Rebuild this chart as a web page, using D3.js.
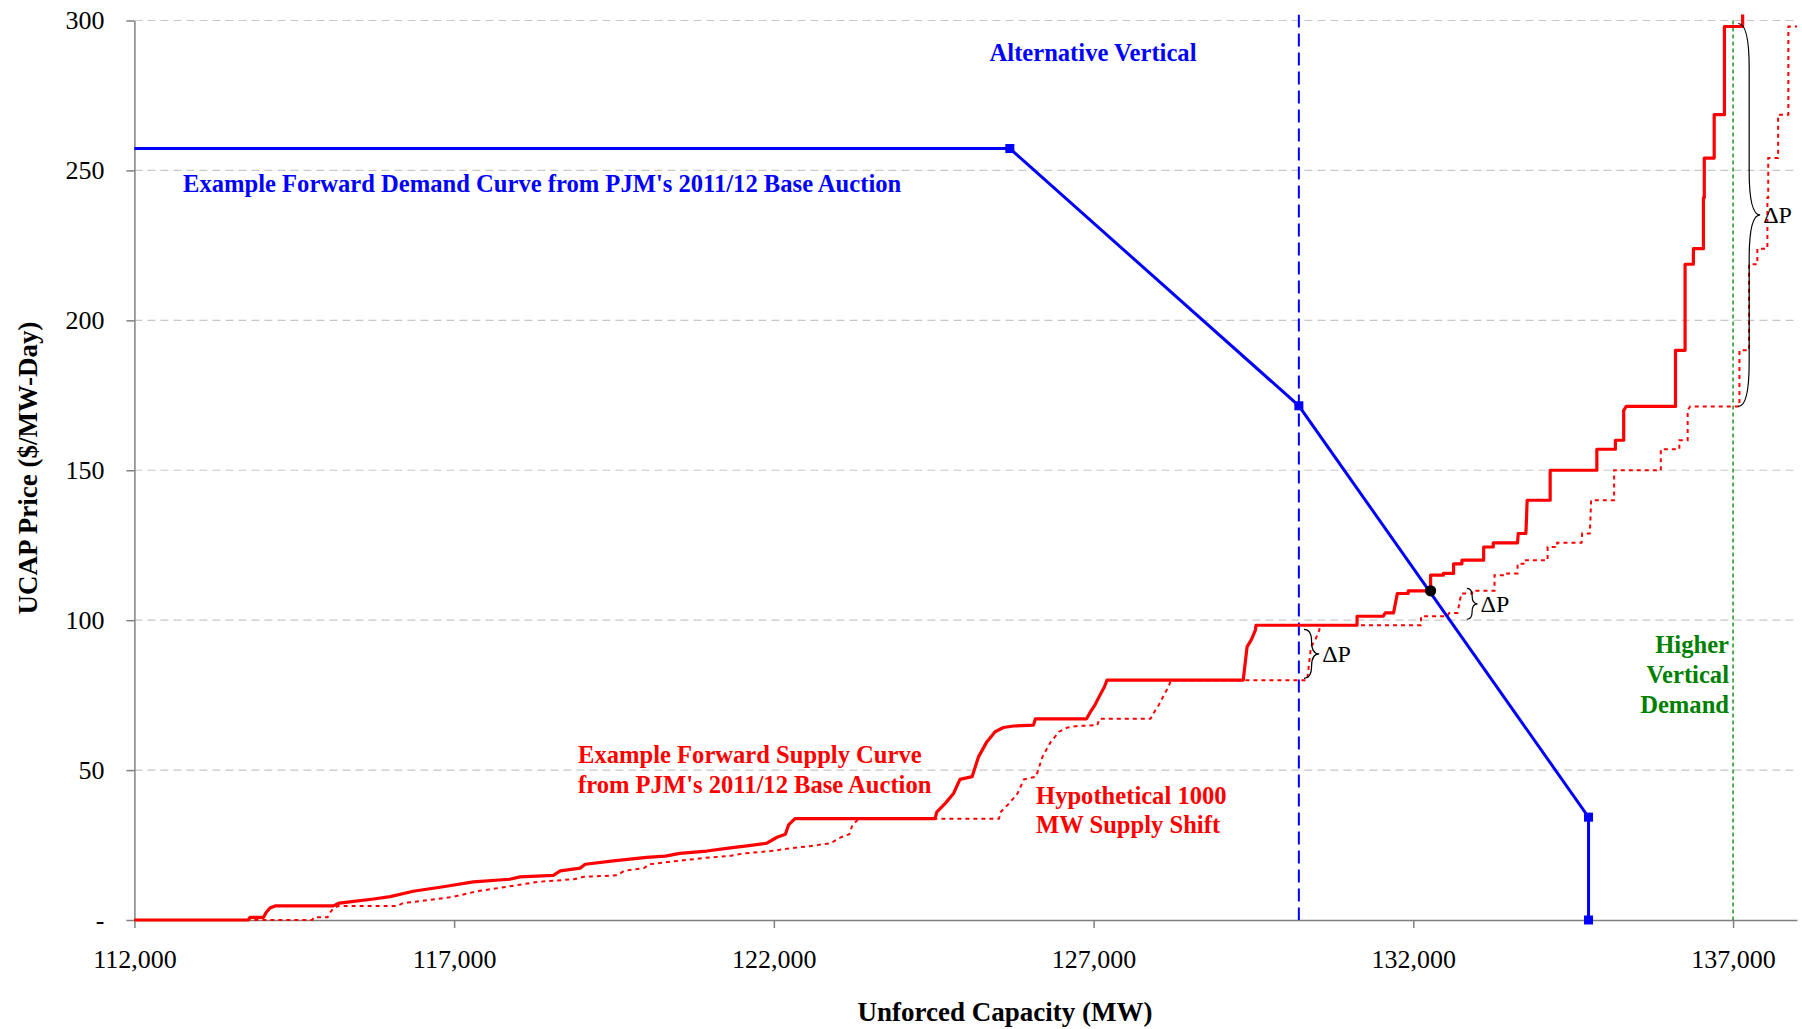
<!DOCTYPE html>
<html>
  <head>
    <meta charset="utf-8">
    <title>Forward capacity supply and demand</title>
    <script src="https://cdn.jsdelivr.net/npm/d3@7"></script>
    <style>
      body { margin: 0; background: #fff; }
      svg { display: block; font-family: "Liberation Serif", "Times New Roman", serif; }
      .axis path, .axis line { stroke: #808080; stroke-width: 1.5; }
      .axis text { font-family: "Liberation Serif", "Times New Roman", serif; font-size: 26px; fill: #000; }
      .grid line { stroke: #c8c8c8; stroke-width: 1.2; stroke-dasharray: 8, 5; }
      .title { font-size: 27px; font-weight: bold; fill: #000; }
      .label { font-size: 24.6px; font-weight: bold; }
      .delta { font-size: 24px; fill: #000; }
    </style>
  </head>
  <body>
    <svg id="chart" width="1802" height="1029"></svg>

    <script>
      // data (MW, $/MW-day)
      const xTicks = [112000, 117000, 122000, 127000, 132000, 137000];
      const yTicks = [0, 50, 100, 150, 200, 250, 300];

      const demandMW = [112000, 125690, 130210, 134740, 134740];
      const demandPrice = [257.3, 257.3, 171.5, 34.3, 0];

      const supplyCurve = [
        [112000, 0], [113780, 0], [113810, 0.9], [114020, 0.9], [114060, 2.5], [114120, 4.0], [114200, 4.7],
        [115110, 4.7], [115200, 5.6], [115270, 5.8], [115740, 7.0], [116000, 7.8], [116360, 9.6],
        [116830, 11.1], [117300, 12.7], [117870, 13.6], [118030, 14.4], [118550, 14.9], [118660, 16.4],
        [118970, 17.3], [119050, 18.6], [119490, 19.7], [120010, 20.9], [120300, 21.3], [120530, 22.2],
        [120950, 23.0], [121260, 23.9], [121580, 24.7], [121890, 25.6], [122050, 27.6], [122180, 28.6],
        [122230, 31.7], [122330, 33.8], [124520, 33.8], [124550, 36.1], [124680, 38.9], [124810, 42.2],
        [124910, 46.9], [125100, 47.8], [125200, 54.4], [125330, 59.4], [125460, 62.8], [125590, 64.2],
        [125750, 64.7], [126060, 65.0], [126090, 67.1], [126890, 67.1], [126950, 69.4], [127020, 71.7],
        [127100, 75.0], [127170, 77.8], [127210, 80.0], [129340, 80.0], [129370, 85.6], [129400, 91.1],
        [129470, 93.6], [129530, 96.7], [129540, 98.3], [131120, 98.3], [131120, 101.3], [131530, 101.3],
        [131560, 102.4], [131690, 102.4], [131720, 105.6], [131750, 108.9], [131920, 108.9], [131920, 109.8],
        [132270, 109.8], [132270, 115.0], [132470, 115.0], [132470, 115.6], [132630, 115.6], [132630, 118.8],
        [132760, 118.8], [132760, 120.0], [133100, 120.0], [133100, 124.4], [133250, 124.4], [133250, 125.8],
        [133630, 125.8], [133640, 128.9], [133760, 128.9], [133770, 133.9], [133780, 140.0], [134140, 140.0],
        [134140, 150.0], [134870, 150.0], [134870, 157.0], [135160, 157.0], [135160, 160.0], [135290, 160.0],
        [135290, 170.0], [135330, 171.3], [136100, 171.3], [136100, 190.0], [136250, 190.0], [136250, 218.7],
        [136380, 218.7], [136380, 223.9], [136537, 223.9], [136537, 240.9], [136550, 240.9], [136550, 254.1],
        [136705, 254.1], [136705, 268.6], [136865, 268.6], [136865, 298.0], [137150, 298.0], [137150, 310.0]
      ];
      const supplyShiftMW = 1000;

      const alternativeVerticalMW = 130210;
      const higherVerticalMW = 137000;
      const clearingPoint = [132270, 109.8];

      // delta P braces: left edge MW, top price, bottom price
      const braceMW = [130290, 132836, 137080];
      const braceTop = [96.9, 110.6, 299];
      const braceBottom = [80.6, 100.3, 171.3];

      // elements
      chart = d3.select("#chart");

      x = d3.scaleLinear()
        .domain([112000, 138000])
        .range([134.4, 1797]);
      y = d3.scaleLinear()
        .domain([0, 300])
        .range([920, 20.5]);

      plotTop = y(302);

      chart.append("defs").append("clipPath")
          .attr("id", "plotClip")
        .append("rect")
          .attr("x", x(112000) - 6)
          .attr("y", plotTop)
          .attr("width", x(138000) - x(112000) + 6)
          .attr("height", y(0) - plotTop + 6);

      // gridlines
      chart.append("g")
          .attr("class", "grid")
        .selectAll("line")
          .data(yTicks.filter(function(d) { return d > 0; }))
        .enter().append("line")
          .attr("x1", x(112000))
          .attr("x2", x(138000))
          .attr("y1", function(d) { return y(d); })
          .attr("y2", function(d) { return y(d); });

      // axes
      xAxis = d3.axisBottom(x)
        .tickValues(xTicks)
        .tickFormat(d3.format(","))
        .tickSize(8)
        .tickSizeOuter(0)
        .tickPadding(22);
      yAxis = d3.axisLeft(y)
        .tickValues(yTicks)
        .tickFormat(function(d) { return d === 0 ? "-" : d; })
        .tickSize(8)
        .tickSizeOuter(0)
        .tickPadding(22);

      chart.append("g")
          .attr("class", "axis")
          .attr("transform", "translate(0, " + y(0) + ")")
          .call(xAxis);
      chart.append("g")
          .attr("class", "axis")
          .attr("transform", "translate(" + x(112000) + ", 0)")
          .call(yAxis);

      plot = chart.append("g")
        .attr("clip-path", "url(#plotClip)");

      // vertical demand alternatives
      plot.append("line")
        .attr("x1", x(alternativeVerticalMW))
        .attr("x2", x(alternativeVerticalMW))
        .attr("y1", plotTop)
        .attr("y2", y(0))
        .attr("stroke", "#0000ff")
        .attr("stroke-width", 2)
        .attr("stroke-dasharray", "13, 6");
      plot.append("line")
        .attr("x1", x(higherVerticalMW))
        .attr("x2", x(higherVerticalMW))
        .attr("y1", y(300))
        .attr("y2", y(0))
        .attr("stroke", "#2e9a2e")
        .attr("stroke-width", 1.6)
        .attr("stroke-dasharray", "4, 3");

      line = d3.line()
        .x(function(d) { return x(d[0]); })
        .y(function(d) { return y(d[1]); });

      // supply curves (hypothetical one is the same offers moved right by 1000 MW)
      shifted = [supplyCurve[0]].concat(supplyCurve.slice(1).map(function(d) { return [d[0] + supplyShiftMW, d[1]]; }));

      plot.append("path")
        .datum(shifted)
        .attr("d", line)
        .attr("fill", "none")
        .attr("stroke", "#ff0000")
        .attr("stroke-width", 2)
        .attr("stroke-dasharray", "4, 4");

      plot.append("path")
        .datum(supplyCurve)
        .attr("d", line)
        .attr("fill", "none")
        .attr("stroke", "#ff0000")
        .attr("stroke-width", 3.2)
        .attr("stroke-linejoin", "round");

      // demand curve
      demand = demandMW.map(function(d, i) { return [d, demandPrice[i]]; });

      plot.append("path")
        .datum(demand)
        .attr("d", line)
        .attr("fill", "none")
        .attr("stroke", "#0000ff")
        .attr("stroke-width", 3);

      chart.append("g")
        .selectAll("rect")
          .data(demand.slice(1))
        .enter().append("rect")
          .attr("x", function(d) { return x(d[0]) - 4.5; })
          .attr("y", function(d) { return y(d[1]) - 4.5; })
          .attr("width", 9)
          .attr("height", 9)
          .attr("fill", "#0000ff");

      chart.append("circle")
        .attr("cx", x(clearingPoint[0]))
        .attr("cy", y(clearingPoint[1]))
        .attr("r", 5.6)
        .attr("fill", "#000");

      // braces
      function bracePath(x0, y0, y1) {
        h = y1 - y0;
        w = Math.min(22, 3 + h * 0.25);
        r = Math.min(h / 4, w * 2);
        xs = x0 + w / 2;
        ym = (y0 + y1) / 2;
        return "M" + x0 + "," + y0 +
          "Q" + xs + "," + y0 + " " + xs + "," + (y0 + r) +
          "L" + xs + "," + (ym - r) +
          "Q" + xs + "," + ym + " " + (x0 + w) + "," + ym +
          "Q" + xs + "," + ym + " " + xs + "," + (ym + r) +
          "L" + xs + "," + (y1 - r) +
          "Q" + xs + "," + y1 + " " + x0 + "," + y1;
      }

      braceMW.forEach(function(mw, i) {
        x0 = x(mw);
        y0 = y(braceTop[i]);
        y1 = y(braceBottom[i]);
        chart.append("path")
          .attr("d", bracePath(x0, y0, y1))
          .attr("fill", "none")
          .attr("stroke", "#000")
          .attr("stroke-width", 1.2);
        w = Math.min(22, 3 + (y1 - y0) * 0.25);
        chart.append("text")
          .attr("class", "delta")
          .attr("x", x0 + w + 3)
          .attr("y", (y0 + y1) / 2)
          .attr("dy", "0.35em")
          .text("\u0394P");
      });

      // labels
      chart.append("text")
        .attr("class", "label")
        .attr("fill", "#0000ff")
        .attr("x", 1093)
        .attr("y", 61)
        .attr("text-anchor", "middle")
        .text("Alternative Vertical");

      chart.append("text")
        .attr("class", "label")
        .attr("fill", "#0000ff")
        .attr("x", 183)
        .attr("y", 192)
        .text("Example Forward Demand Curve from PJM's 2011/12 Base Auction");

      supplyLabel = chart.append("text")
        .attr("class", "label")
        .attr("fill", "#ff0000");
      supplyLabel.append("tspan").attr("x", 578).attr("y", 763).text("Example Forward Supply Curve");
      supplyLabel.append("tspan").attr("x", 578).attr("y", 793).text("from PJM's 2011/12 Base Auction");

      shiftLabel = chart.append("text")
        .attr("class", "label")
        .attr("fill", "#ff0000");
      shiftLabel.append("tspan").attr("x", 1036).attr("y", 804).text("Hypothetical 1000");
      shiftLabel.append("tspan").attr("x", 1036).attr("y", 833).text("MW Supply Shift");

      greenLabel = chart.append("text")
        .attr("class", "label")
        .attr("fill", "#008000")
        .attr("text-anchor", "end");
      ["Higher", "Vertical", "Demand"].forEach(function(t, i) {
        greenLabel.append("tspan").attr("x", 1729).attr("y", 653 + i * 30).text(t);
      });

      // axis titles
      chart.append("text")
        .attr("class", "title")
        .attr("x", 1005)
        .attr("y", 1021)
        .attr("text-anchor", "middle")
        .text("Unforced Capacity (MW)");

      chart.append("text")
        .attr("class", "title")
        .attr("transform", "translate(37, 468) rotate(-90)")
        .attr("text-anchor", "middle")
        .text("UCAP Price ($/MW-Day)");
    </script>
  </body>
</html>
